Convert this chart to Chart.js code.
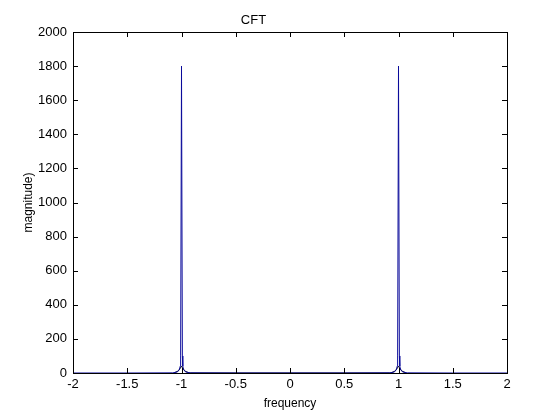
<!DOCTYPE html>
<html>
<head>
<meta charset="utf-8">
<script src="https://cdn.jsdelivr.net/npm/chart.js@4"></script>
<style>
  html, body { margin: 0; padding: 0; background: #fff; }
  #wrap { width: 560px; height: 420px; }
</style>
</head>
<body>
<div id="wrap"><canvas id="myChart"></canvas></div>
<script>
// spectrum samples (frequency, magnitude)
var freq = [-2, -1.5, -1.08, -1.04, -1.02, -1.012, -1.008, -1.0, -0.992, -0.988, -0.98, -0.96, -0.92, -0.5, 0,
            0.5, 0.92, 0.96, 0.98, 0.988, 0.992, 1.0, 1.008, 1.012, 1.02, 1.04, 1.08, 1.5, 2];
var mag = [0, 0, 1, 6, 18, 40, 100, 1800, 100, 40, 18, 6, 1, 0, 0,
           0, 1, 6, 18, 40, 100, 1800, 100, 40, 18, 6, 1, 0, 0];
// small black lobe under each peak
var lobeFreq = [-1.07, -1.03, -1.01, -1.0, -0.99, -0.97, -0.93, 0.93, 0.97, 0.99, 1.0, 1.01, 1.03, 1.07];
var lobeMag = [0, 12, 30, 40, 30, 12, 0, 0, 12, 30, 40, 30, 12, 0];

var xTicks = [-2, -1.5, -1, -0.5, 0, 0.5, 1, 1.5, 2];
var yTicks = [0, 200, 400, 600, 800, 1000, 1200, 1400, 1600, 1800, 2000];

function pts(xs, ys) {
    return xs.map(function (x, i) { return {x: x, y: ys[i]}; });
}

var fontFamily = '"Liberation Sans", Arial, sans-serif';

// MATLAB style box with inward ticks
var boxPlugin = {
    id: 'box',
    afterDraw: function (chart) {
        var c = chart.ctx, a = chart.chartArea;
        var xs = chart.scales.x, ys = chart.scales.y;
        c.save();
        c.strokeStyle = '#000';
        c.lineWidth = 1;
        c.beginPath();
        xTicks.forEach(function (t) {
            var px = Math.round(xs.getPixelForValue(t)) + 0.5;
            c.moveTo(px, a.bottom); c.lineTo(px, a.bottom - 5);
            c.moveTo(px, a.top); c.lineTo(px, a.top + 5);
        });
        yTicks.forEach(function (t) {
            var py = Math.round(ys.getPixelForValue(t)) + 0.5;
            c.moveTo(a.left, py); c.lineTo(a.left + 5, py);
            c.moveTo(a.right, py); c.lineTo(a.right - 5, py);
        });
        c.stroke();
        c.strokeRect(Math.round(a.left) + 0.5, Math.round(a.top) + 0.5,
                     Math.round(a.right - a.left), Math.round(a.bottom - a.top));
        c.restore();
    }
};

var ctx = document.getElementById('myChart').getContext('2d');
var myChart = new Chart(ctx, {
    type: 'line',
    data: {
        datasets: [{
            data: pts(freq, mag),
            borderColor: '#0a0a9a',
            borderWidth: 1,
            pointRadius: 0,
            tension: 0,
            order: 1
        }, {
            data: pts(lobeFreq, lobeMag),
            borderColor: '#000',
            borderWidth: 1,
            pointRadius: 0,
            tension: 0,
            order: 2
        }]
    },
    options: {
        responsive: true,
        maintainAspectRatio: false,
        animation: false,
        layout: { padding: { left: 0, right: 53, top: 0, bottom: 0 } },
        plugins: {
            legend: { display: false },
            tooltip: { enabled: false },
            title: {
                display: true,
                text: 'CFT',
                color: '#000',
                font: { family: fontFamily, size: 13, weight: 'normal', lineHeight: 1 },
                padding: { top: 14, bottom: 5 }
            }
        },
        scales: {
            x: {
                type: 'linear',
                min: -2,
                max: 2,
                afterBuildTicks: function (s) { s.ticks = xTicks.map(function (v) { return {value: v}; }); },
                afterFit: function (s) { s.height = 47; },
                grid: { display: false, drawTicks: false },
                border: { display: false },
                ticks: {
                    color: '#000',
                    padding: 4,
                    maxRotation: 0,
                    font: { family: fontFamily, size: 13 },
                    callback: function (v) { return String(v); }
                },
                title: {
                    display: true,
                    text: 'frequency',
                    color: '#000',
                    font: { family: fontFamily, size: 12 },
                    padding: { top: 0, bottom: 9 }
                }
            },
            y: {
                min: 0,
                max: 2000,
                afterBuildTicks: function (s) { s.ticks = yTicks.map(function (v) { return {value: v}; }); },
                afterFit: function (s) { s.width = 73; },
                grid: { display: false, drawTicks: false },
                border: { display: false },
                ticks: {
                    color: '#000',
                    padding: 6,
                    font: { family: fontFamily, size: 13 },
                    callback: function (v) { return String(v); }
                },
                title: {
                    display: true,
                    text: 'magnitude)',
                    color: '#000',
                    font: { family: fontFamily, size: 12 },
                    padding: { top: 21, bottom: 0 }
                }
            }
        }
    },
    plugins: [boxPlugin]
});
</script>
</body>
</html>
